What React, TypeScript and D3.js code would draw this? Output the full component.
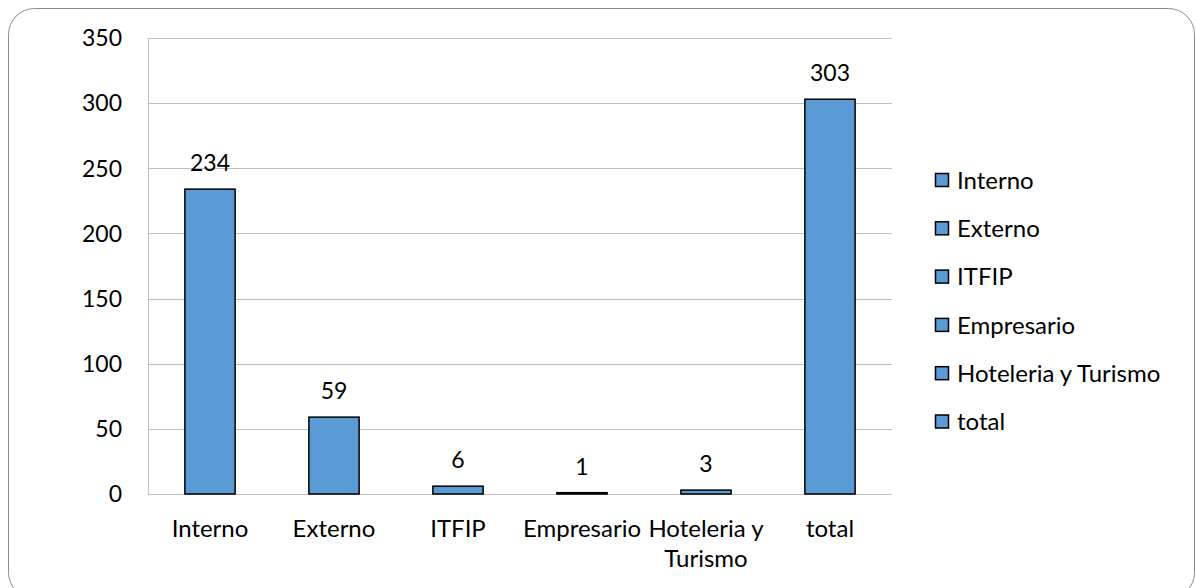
import React, { useRef, useEffect } from 'react';
import { select, scaleBand, scaleLinear, range } from 'd3';

const categories = ['Interno', 'Externo', 'ITFIP', 'Empresario', 'Hoteleria y Turismo', 'total'];
const values = [234, 59, 6, 1, 3, 303];
const yTicks = [0, 50, 100, 150, 200, 250, 300, 350];
// x axis labels, wrapped like the original
const xLabelLines = [['Interno'], ['Externo'], ['ITFIP'], ['Empresario'], ['Hoteleria y', 'Turismo'], ['total']];

const FONT = 'Lato, "Open Sans", sans-serif';
const BLUE = '#5b9bd5';

const BarChart = () => {
  const svgRef = useRef<SVGSVGElement>(null);

  useEffect(() => {
    const svg = select(svgRef.current);
    svg.selectAll('*').remove();

    // frame
    svg
      .append('rect')
      .attr('x', 8.5)
      .attr('y', 8.5)
      .attr('width', 1186)
      .attr('height', 590)
      .attr('rx', 26)
      .attr('fill', '#fff')
      .attr('stroke', '#8c8c8c')
      .attr('stroke-width', 1);

    const left = 148;
    const right = 892;
    const top = 38;
    const bottom = 494;

    // scales
    const xScale = scaleBand<string>()
      .domain(categories)
      .range([left, right])
      .paddingInner(0.595)
      .paddingOuter(0.2975);
    const yScale = scaleLinear().domain([0, 350]).range([bottom, top]);

    // grid
    svg
      .selectAll('.grid')
      .data(yTicks)
      .join('line')
      .attr('x1', left)
      .attr('x2', right)
      .attr('y1', (d) => Math.round(yScale(d)) + 0.5)
      .attr('y2', (d) => Math.round(yScale(d)) + 0.5)
      .attr('stroke', '#bfbfbf')
      .attr('stroke-width', 1);

    // y axis line
    svg
      .append('line')
      .attr('x1', left + 0.5)
      .attr('x2', left + 0.5)
      .attr('y1', top)
      .attr('y2', bottom)
      .attr('stroke', '#bfbfbf');

    // y tick labels
    svg
      .selectAll('.ytick')
      .data(yTicks)
      .join('text')
      .attr('x', 122)
      .attr('y', (d) => yScale(d))
      .attr('dy', '0.36em')
      .attr('text-anchor', 'end')
      .attr('font-family', FONT)
      .attr('font-size', 23)
      .attr('fill', '#000')
      .text((d) => d);

    // bars
    svg
      .selectAll('.bar')
      .data(values)
      .join('rect')
      .attr('x', (d, i) => xScale(categories[i])!)
      .attr('y', (d) => yScale(d))
      .attr('width', xScale.bandwidth())
      .attr('height', (d) => bottom - yScale(d))
      .attr('fill', BLUE)
      .attr('stroke', '#000')
      .attr('stroke-width', 1.5);

    // value labels
    svg
      .selectAll('.val')
      .data(values)
      .join('text')
      .attr('x', (d, i) => xScale(categories[i])! + xScale.bandwidth() / 2)
      .attr('y', (d) => yScale(d) - 18)
      .attr('text-anchor', 'middle')
      .attr('font-family', FONT)
      .attr('font-size', 23)
      .attr('fill', '#000')
      .text((d) => d);

    // x labels
    const xl = svg
      .selectAll('.xl')
      .data(xLabelLines)
      .join('text')
      .attr('text-anchor', 'middle')
      .attr('font-family', FONT)
      .attr('font-size', 24)
      .attr('fill', '#000');
    xl.each(function (lines, i) {
      const cx = xScale(categories[i])! + xScale.bandwidth() / 2;
      select(this)
        .selectAll('tspan')
        .data(lines)
        .join('tspan')
        .attr('x', cx)
        .attr('y', (d, j) => 537 + j * 30)
        .text((d) => d);
    });

    // legend
    const lg = svg
      .selectAll('.lg')
      .data(range(categories.length))
      .join('g')
      .attr('transform', (i) => `translate(935, ${180 + i * 48.3})`);
    lg.append('rect')
      .attr('x', 0.5)
      .attr('y', -6.5)
      .attr('width', 13)
      .attr('height', 13)
      .attr('fill', BLUE)
      .attr('stroke', '#000')
      .attr('stroke-width', 1.5);
    lg.append('text')
      .attr('x', 22)
      .attr('dy', '0.36em')
      .attr('font-family', FONT)
      .attr('font-size', 24)
      .attr('fill', '#000')
      .text((i) => categories[i]);
  }, []);

  return (
    <svg
      ref={svgRef}
      width={1196}
      height={588}
      style={{ position: 'absolute', left: 0, top: 0, display: 'block' }}
    ></svg>
  );
};

export default function App() {
  return <BarChart />;
}
